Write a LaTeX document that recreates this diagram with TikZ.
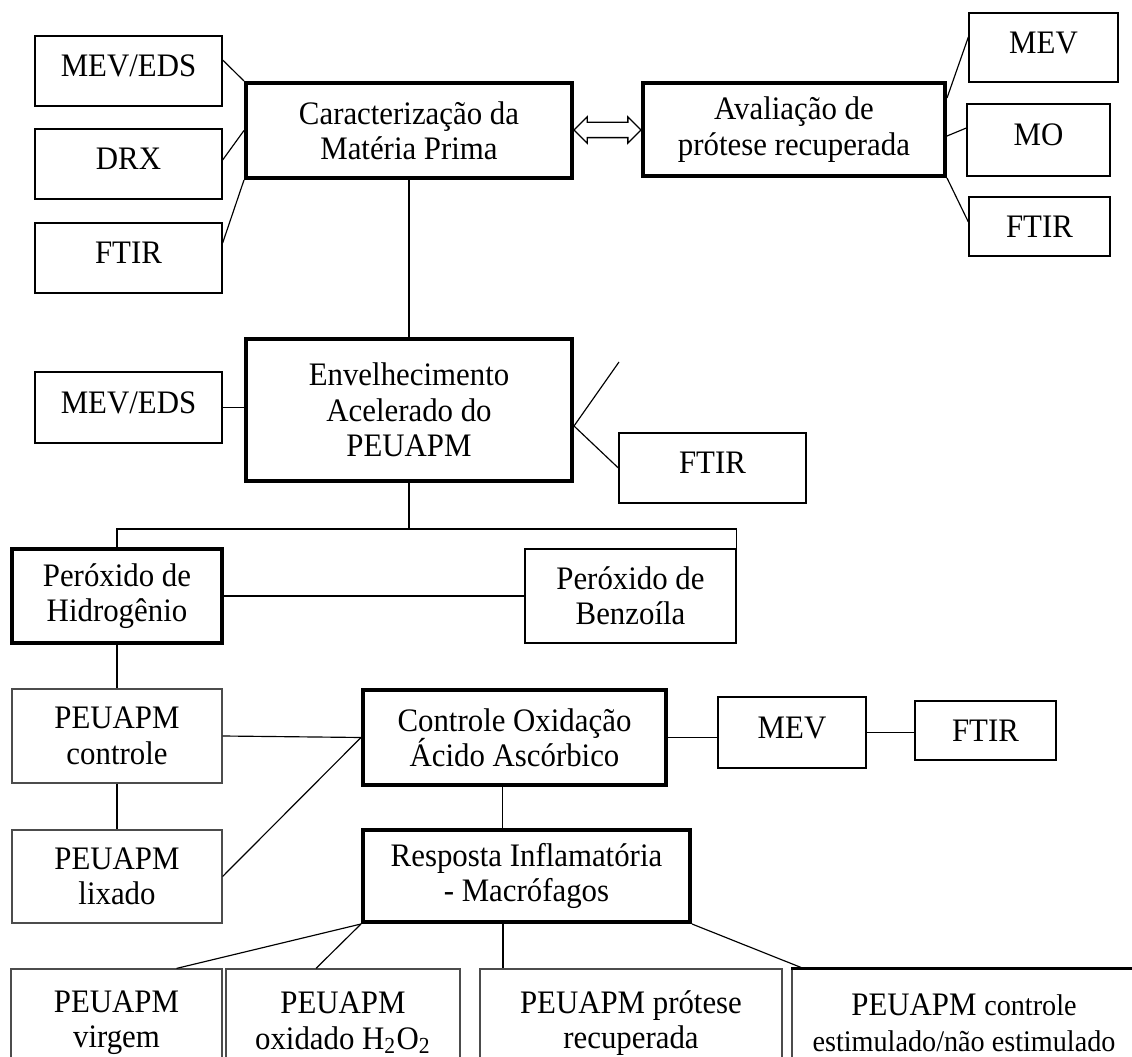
\documentclass[tikz,border=0pt]{standalone}
\usepackage{fontspec}
\setmainfont[FakeStretch=0.94]{Liberation Serif}
\usetikzlibrary{calc,shapes.arrows}
\newdimen\px
\px=0.387pt

\begin{document}
\begin{tikzpicture}[x=0.387pt, y=-0.387pt,
                caixa/.style={draw, line width=0.5pt, inner sep=0pt, align=center, font=\fontsize{12.7}{13.7}\selectfont},
                grossa/.style={caixa, line width=1.55pt},
                clara/.style={caixa, draw=black!70, line width=0.45pt},
                linha/.style={text depth=0.38em},
                liga/.style={line width=0.45pt}]
                \useasboundingbox (0,0) rectangle (1132,1057);
                \clip (0,0) rectangle (1132,1057);

                \node[caixa, linha, minimum width=187\px, minimum height=70\px] (mevA) at (128.5,71) {MEV/EDS};
                \node[caixa, linha, minimum width=187\px, minimum height=70\px] (drxA) at (128.5,164) {DRX};
                \node[caixa, linha, minimum width=187\px, minimum height=70\px] (ftirA) at (128.5,258) {FTIR};
                \node[grossa, minimum width=326\px, minimum height=95\px] (carac) at (409,130.5) {Caracterização da\\Matéria Prima};
                \node[grossa, minimum width=302\px, minimum height=93\px] (aval) at (794,129.5) {Avaliação de\\prótese recuperada};
                \node[caixa, linha, minimum width=149\px, minimum height=69\px] (mevB) at (1043.5,47.5) {MEV};
                \node[caixa, linha, minimum width=143\px, minimum height=72\px] (moB) at (1038.5,140) {MO};
                \node[caixa, minimum width=141\px, minimum height=59\px] (ftirB) at (1039.5,226.5) {FTIR};

                \node[grossa, minimum width=326\px, minimum height=142\px] (env) at (409,410) {Envelhecimento\\Acelerado do\\PEUAPM};
                \node[caixa, linha, minimum width=187\px, minimum height=71\px] (mevC) at (128.5,407.5) {MEV/EDS};
                \node[caixa, linha, minimum width=187\px, minimum height=70\px] (ftirC) at (712.5,468) {FTIR};
                \coordinate (solto) at (619,362);

                \node[grossa, minimum width=210\px, minimum height=94\px] (perH) at (117,596) {Peróxido de\\Hidrogênio};
                \node[caixa, minimum width=211\px, minimum height=94\px] (perB) at (630.5,596) {Peróxido de\\Benzoíla};

                \node[clara, minimum width=210\px, minimum height=94\px] (ctrl) at (117,736) {PEUAPM\\controle};
                \node[clara, minimum width=210\px, minimum height=93\px] (lix) at (117,876.5) {PEUAPM\\lixado};
                \node[grossa, minimum width=303\px, minimum height=95\px] (ctox) at (514.5,737.5) {Controle Oxidação\\Ácido Ascórbico};
                \node[caixa, linha, minimum width=148\px, minimum height=71\px] (mevD) at (792,732.5) {MEV};
                \node[caixa, minimum width=141\px, minimum height=59\px] (ftirD) at (985.5,730.5) {FTIR};
                \node[grossa, minimum width=327\px, minimum height=92\px] (resp) at (526.5,876) {Resposta Inflamatória\\- Macrófagos};

                \node[clara, minimum width=211\px, minimum height=108\px] (virg) at (116.5,1023) {PEUAPM\\virgem};
                \node[clara, minimum width=234\px, minimum height=108\px] (oxi) at (343,1023) {PEUAPM\\oxidado H\textsubscript{2}O\textsubscript{2}};
                \node[clara, minimum width=302\px, minimum height=108\px] (prot) at (631,1023) {PEUAPM prótese\\recuperada};
                \node[clara, minimum width=344\px, minimum height=108\px] (estim) at (964,1023) {PEUAPM {\fontsize{11.6}{13}\selectfont controle}\\{\fontsize{11.6}{13}\selectfont estimulado/não estimulado}};

                \node[double arrow, draw, line width=0.5pt, inner sep=0pt, inner ysep=7\px, minimum height=67\px, minimum width=25\px, double arrow head extend=5.5\px, double arrow head indent=0pt] (seta) at ($(carac.east)!0.5!(aval.west)$) {};

                \draw[liga] ($(mevA.east)+(0,-11)$) -- (carac.north west);
                \draw[liga] ($(drxA.east)+(0,-4)$) -- (carac.west);
                \draw[liga] ($(ftirA.east)+(0,-15)$) -- (carac.south west);
                \draw[liga] (carac.south) -- (env.north);
                \draw[liga] ($(aval.east)+(0,-31.5)$) -- ($(mevB.west)+(0,-10.5)$);
                \draw[liga] ($(aval.east)+(0,6.5)$) -- ($(moB.west)+(0,-12)$);
                \draw[liga] (aval.south east) -- ($(ftirB.west)+(0,-4.5)$);

                \draw[liga] (mevC.east) -- (mevC.east -| env.west);
                \draw[liga] (solto) -- ($(env.east)+(0,16)$) -- (ftirC.west);
                \coordinate (ramo) at ($(env.south)+(0,46)$);
                \draw[liga] (env.south) -- (ramo);
                \draw[liga] (perH.north) |- (ramo) -| (perB.north east);
                \draw[liga] (perH.east) -- (perB.west);

                \draw[liga] (perH.south) -- (ctrl.north);
                \draw[liga] (ctrl.east) -- (ctox.west);
                \draw[liga] (ctrl.south) -- (lix.north);
                \draw[liga] (lix.east) -- (ctox.west);
                \draw[liga] (ctox.east) -- (ctox.east -| mevD.west);
                \draw[liga] (mevD.east) -- (mevD.east -| ftirD.west);
                \coordinate (desce) at ([xshift=-12\px]ctox.south);
                \draw[liga] (desce) -- (desce |- resp.north);

                \draw[liga] (resp.south west) -- ($(virg.north)+(60,0)$);
                \draw[liga] (resp.south west) -- ($(oxi.north)+(-27,0)$);
                \coordinate (meio) at ([xshift=-23.5\px]resp.south);
                \draw[liga] (meio) -- (meio |- prot.north);
                \draw[liga] (resp.south east) -- ($(estim.north west)+(12,0)$);
                \draw[line width=1.1pt] (estim.north west) -- (estim.north east);
\end{tikzpicture}
\end{document}
